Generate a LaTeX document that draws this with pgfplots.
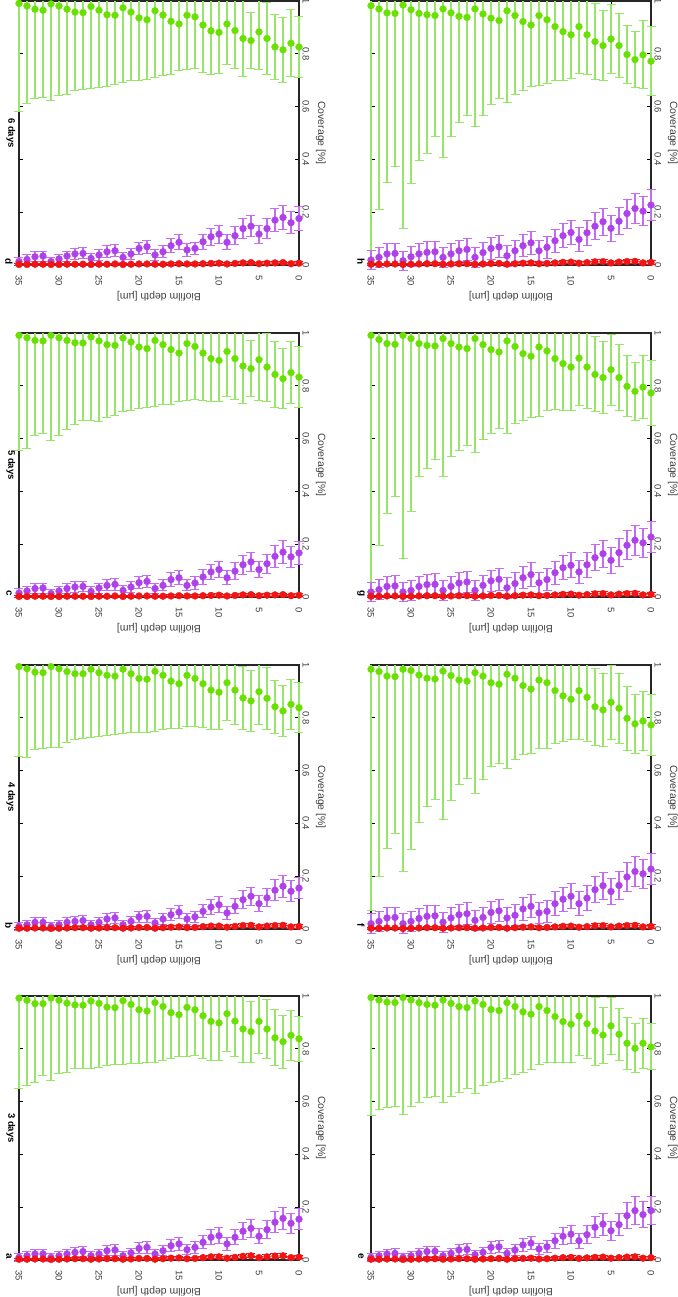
\documentclass[border=0pt]{standalone}
\usepackage{fontspec}
\setmainfont{Liberation Sans}
\usepackage{pgfplots}
\usepackage{pgfplotstable}
\pgfplotsset{compat=1.18}
\definecolor{cgreen}{RGB}{105,225,0}
\definecolor{cgreenbar}{RGB}{152,230,105}
\definecolor{cpurple}{RGB}{175,65,235}
\definecolor{cpurplebar}{RGB}{195,110,240}
\definecolor{cred}{RGB}{240,20,20}

% columns: depth, green, green err, purple, purple err, red, red err
\pgfplotstableread{
d g ge p pe r re
35 0.992 0.343 0.010 0.015 0.003 0.003
34 0.984 0.323 0.016 0.016 0.003 0.003
33 0.971 0.297 0.023 0.017 0.004 0.003
32 0.971 0.272 0.023 0.017 0.004 0.003
31 0.992 0.312 0.010 0.015 0.002 0.003
30 0.984 0.279 0.016 0.016 0.003 0.003
29 0.973 0.261 0.023 0.017 0.004 0.003
28 0.966 0.242 0.029 0.018 0.005 0.004
27 0.965 0.238 0.032 0.019 0.005 0.004
26 0.981 0.254 0.016 0.016 0.003 0.003
25 0.972 0.241 0.023 0.017 0.004 0.004
24 0.958 0.223 0.035 0.019 0.005 0.004
23 0.956 0.216 0.038 0.020 0.005 0.004
22 0.982 0.242 0.016 0.016 0.003 0.003
21 0.968 0.225 0.027 0.018 0.004 0.004
20 0.948 0.202 0.044 0.021 0.006 0.004
19 0.943 0.193 0.048 0.022 0.006 0.005
18 0.975 0.225 0.023 0.017 0.003 0.003
17 0.960 0.204 0.035 0.019 0.005 0.004
16 0.937 0.175 0.054 0.023 0.007 0.005
15 0.929 0.160 0.061 0.024 0.008 0.005
14 0.957 0.185 0.039 0.020 0.005 0.004
13 0.948 0.173 0.048 0.022 0.006 0.005
12 0.925 0.163 0.067 0.025 0.009 0.006
11 0.904 0.148 0.086 0.028 0.012 0.006
10 0.898 0.142 0.092 0.030 0.012 0.007
9 0.933 0.143 0.061 0.024 0.007 0.005
8 0.905 0.136 0.086 0.028 0.010 0.006
7 0.875 0.128 0.109 0.033 0.014 0.007
6 0.865 0.115 0.120 0.035 0.016 0.008
5 0.904 0.123 0.090 0.029 0.009 0.006
4 0.875 0.113 0.115 0.034 0.012 0.007
3 0.842 0.107 0.143 0.039 0.015 0.008
2 0.827 0.100 0.158 0.041 0.016 0.008
1 0.851 0.095 0.139 0.038 0.009 0.006
0 0.838 0.086 0.155 0.041 0.011 0.007
}\tabA
\pgfplotstableread{
d g ge p pe r re
35 0.994 0.339 0.010 0.015 0.003 0.003
34 0.986 0.337 0.016 0.016 0.003 0.003
33 0.973 0.293 0.025 0.018 0.004 0.003
32 0.971 0.288 0.025 0.018 0.004 0.003
31 0.994 0.307 0.010 0.015 0.002 0.003
30 0.986 0.299 0.016 0.016 0.003 0.003
29 0.975 0.270 0.025 0.018 0.004 0.003
28 0.967 0.249 0.029 0.018 0.005 0.004
27 0.967 0.246 0.032 0.019 0.005 0.004
26 0.984 0.260 0.016 0.016 0.003 0.003
25 0.971 0.243 0.025 0.018 0.004 0.004
24 0.961 0.228 0.038 0.020 0.005 0.004
23 0.958 0.221 0.042 0.021 0.005 0.004
22 0.984 0.243 0.016 0.016 0.003 0.003
21 0.967 0.224 0.029 0.018 0.004 0.004
20 0.949 0.206 0.046 0.021 0.006 0.004
19 0.946 0.200 0.048 0.022 0.006 0.005
18 0.976 0.226 0.023 0.017 0.003 0.003
17 0.961 0.205 0.038 0.020 0.005 0.004
16 0.939 0.180 0.054 0.023 0.007 0.005
15 0.929 0.169 0.064 0.025 0.008 0.005
14 0.961 0.195 0.038 0.020 0.005 0.004
13 0.949 0.181 0.046 0.021 0.006 0.005
12 0.929 0.167 0.067 0.025 0.009 0.006
11 0.905 0.149 0.083 0.028 0.011 0.006
10 0.897 0.141 0.092 0.030 0.011 0.007
9 0.933 0.143 0.061 0.024 0.007 0.005
8 0.905 0.130 0.086 0.028 0.010 0.006
7 0.875 0.119 0.111 0.033 0.013 0.007
6 0.864 0.114 0.124 0.035 0.014 0.008
5 0.899 0.124 0.096 0.030 0.008 0.006
4 0.874 0.118 0.118 0.034 0.011 0.007
3 0.842 0.101 0.147 0.039 0.013 0.008
2 0.826 0.098 0.162 0.042 0.014 0.008
1 0.851 0.095 0.143 0.039 0.008 0.006
0 0.838 0.095 0.155 0.041 0.010 0.007
}\tabB
\pgfplotstableread{
d g ge p pe r re
35 0.991 0.435 0.015 0.016 0.002 0.003
34 0.982 0.420 0.023 0.017 0.002 0.003
33 0.972 0.360 0.032 0.019 0.003 0.003
32 0.970 0.351 0.034 0.019 0.003 0.003
31 0.991 0.398 0.013 0.015 0.002 0.003
30 0.982 0.370 0.023 0.017 0.002 0.003
29 0.972 0.338 0.032 0.019 0.003 0.003
28 0.963 0.309 0.038 0.020 0.003 0.003
27 0.962 0.295 0.040 0.020 0.003 0.003
26 0.985 0.316 0.021 0.017 0.002 0.003
25 0.970 0.307 0.034 0.019 0.003 0.003
24 0.956 0.277 0.044 0.021 0.003 0.003
23 0.953 0.265 0.048 0.022 0.004 0.003
22 0.981 0.280 0.025 0.018 0.002 0.003
21 0.966 0.261 0.038 0.020 0.003 0.003
20 0.947 0.234 0.054 0.023 0.004 0.003
19 0.941 0.224 0.059 0.024 0.004 0.003
18 0.972 0.250 0.032 0.019 0.003 0.003
17 0.956 0.226 0.044 0.021 0.003 0.003
16 0.937 0.207 0.066 0.025 0.004 0.004
15 0.924 0.185 0.073 0.026 0.005 0.004
14 0.960 0.215 0.044 0.021 0.004 0.003
13 0.949 0.202 0.053 0.023 0.004 0.004
12 0.924 0.179 0.076 0.027 0.005 0.004
11 0.903 0.161 0.095 0.030 0.006 0.004
10 0.896 0.157 0.104 0.032 0.007 0.005
9 0.930 0.170 0.073 0.026 0.004 0.004
8 0.903 0.156 0.098 0.031 0.006 0.004
7 0.875 0.143 0.122 0.035 0.008 0.005
6 0.865 0.105 0.133 0.037 0.009 0.005
5 0.899 0.154 0.104 0.032 0.005 0.004
4 0.871 0.129 0.126 0.036 0.007 0.005
3 0.843 0.126 0.154 0.041 0.008 0.005
2 0.827 0.114 0.170 0.044 0.009 0.005
1 0.850 0.118 0.152 0.040 0.005 0.004
0 0.833 0.116 0.167 0.043 0.007 0.005
}\tabC
\pgfplotstableread{
d g ge p pe r re
35 0.991 0.410 0.013 0.015 0.002 0.003
34 0.981 0.371 0.021 0.017 0.002 0.003
33 0.969 0.340 0.031 0.019 0.003 0.003
32 0.965 0.330 0.034 0.019 0.003 0.003
31 0.989 0.366 0.013 0.015 0.002 0.003
30 0.981 0.339 0.023 0.017 0.002 0.003
29 0.969 0.324 0.034 0.019 0.003 0.003
28 0.958 0.298 0.042 0.021 0.003 0.003
27 0.956 0.292 0.044 0.021 0.003 0.003
26 0.979 0.310 0.025 0.018 0.002 0.003
25 0.965 0.292 0.038 0.020 0.003 0.003
24 0.948 0.271 0.050 0.022 0.003 0.003
23 0.946 0.264 0.054 0.023 0.004 0.003
22 0.974 0.282 0.029 0.018 0.002 0.003
21 0.958 0.260 0.042 0.021 0.003 0.003
20 0.936 0.238 0.063 0.024 0.004 0.003
19 0.929 0.225 0.069 0.025 0.004 0.003
18 0.963 0.252 0.038 0.020 0.003 0.003
17 0.947 0.228 0.050 0.022 0.003 0.003
16 0.923 0.200 0.073 0.026 0.004 0.004
15 0.913 0.177 0.086 0.028 0.005 0.004
14 0.946 0.204 0.057 0.023 0.004 0.003
13 0.940 0.195 0.063 0.024 0.004 0.004
12 0.909 0.179 0.088 0.029 0.005 0.004
11 0.887 0.164 0.107 0.032 0.006 0.004
10 0.881 0.154 0.117 0.034 0.007 0.005
9 0.913 0.152 0.086 0.028 0.004 0.004
8 0.888 0.143 0.111 0.033 0.006 0.004
7 0.858 0.144 0.138 0.038 0.008 0.005
6 0.850 0.105 0.147 0.039 0.009 0.005
5 0.883 0.141 0.117 0.034 0.005 0.004
4 0.858 0.135 0.138 0.038 0.007 0.005
3 0.826 0.122 0.170 0.044 0.008 0.005
2 0.815 0.123 0.180 0.045 0.009 0.005
1 0.840 0.126 0.160 0.042 0.005 0.004
0 0.826 0.115 0.176 0.045 0.007 0.005
}\tabD
\pgfplotstableread{
d g ge p pe r re
35 0.994 0.448 0.010 0.014 0.003 0.003
34 0.985 0.414 0.016 0.016 0.003 0.003
33 0.977 0.400 0.023 0.017 0.004 0.003
32 0.975 0.395 0.025 0.018 0.004 0.003
31 0.994 0.442 0.010 0.014 0.002 0.003
30 0.985 0.405 0.016 0.016 0.003 0.003
29 0.975 0.379 0.025 0.018 0.004 0.003
28 0.968 0.353 0.032 0.019 0.004 0.004
27 0.965 0.346 0.033 0.019 0.005 0.004
26 0.985 0.389 0.016 0.016 0.003 0.003
25 0.972 0.351 0.025 0.018 0.004 0.004
24 0.960 0.326 0.038 0.020 0.005 0.004
23 0.956 0.307 0.040 0.021 0.005 0.004
22 0.981 0.350 0.020 0.016 0.003 0.003
21 0.968 0.306 0.029 0.018 0.004 0.004
20 0.949 0.277 0.048 0.023 0.005 0.004
19 0.945 0.267 0.050 0.023 0.006 0.004
18 0.975 0.287 0.025 0.018 0.003 0.003
17 0.960 0.257 0.038 0.020 0.005 0.004
16 0.940 0.230 0.057 0.025 0.006 0.004
15 0.931 0.209 0.064 0.026 0.007 0.005
14 0.960 0.218 0.042 0.021 0.004 0.004
13 0.945 0.195 0.050 0.023 0.005 0.004
12 0.922 0.174 0.073 0.028 0.007 0.005
11 0.903 0.155 0.090 0.032 0.009 0.005
10 0.893 0.145 0.098 0.034 0.010 0.006
9 0.924 0.148 0.073 0.028 0.006 0.005
8 0.895 0.132 0.096 0.033 0.008 0.005
7 0.867 0.129 0.124 0.039 0.010 0.006
6 0.852 0.106 0.136 0.042 0.011 0.006
5 0.887 0.107 0.111 0.036 0.007 0.005
4 0.855 0.098 0.134 0.041 0.009 0.006
3 0.821 0.099 0.168 0.049 0.011 0.006
2 0.802 0.092 0.187 0.053 0.012 0.007
1 0.821 0.095 0.172 0.050 0.007 0.005
0 0.807 0.087 0.187 0.053 0.009 0.006
}\tabE
\pgfplotstableread{
d g ge p pe r re
35 0.984 0.914 0.020 0.037 0.003 0.003
34 0.975 0.776 0.029 0.038 0.003 0.003
33 0.958 0.652 0.042 0.039 0.004 0.003
32 0.956 0.593 0.044 0.039 0.004 0.003
31 0.984 0.766 0.020 0.037 0.002 0.003
30 0.979 0.679 0.029 0.038 0.003 0.003
29 0.962 0.558 0.040 0.039 0.004 0.003
28 0.950 0.486 0.048 0.040 0.005 0.004
27 0.947 0.458 0.050 0.040 0.005 0.004
26 0.977 0.563 0.026 0.038 0.003 0.003
25 0.960 0.473 0.042 0.039 0.004 0.004
24 0.943 0.397 0.054 0.040 0.005 0.004
23 0.939 0.368 0.058 0.041 0.005 0.004
22 0.971 0.459 0.033 0.038 0.003 0.003
21 0.958 0.393 0.044 0.039 0.004 0.004
20 0.933 0.318 0.063 0.041 0.006 0.004
19 0.927 0.299 0.069 0.042 0.006 0.005
18 0.965 0.356 0.042 0.039 0.003 0.003
17 0.950 0.307 0.052 0.040 0.005 0.004
16 0.922 0.262 0.076 0.043 0.007 0.005
15 0.909 0.243 0.086 0.044 0.008 0.005
14 0.943 0.258 0.061 0.041 0.005 0.004
13 0.933 0.248 0.067 0.042 0.006 0.005
12 0.903 0.199 0.096 0.045 0.008 0.005
11 0.883 0.173 0.113 0.046 0.010 0.006
10 0.870 0.154 0.124 0.047 0.011 0.006
9 0.903 0.184 0.096 0.045 0.007 0.005
8 0.878 0.168 0.117 0.047 0.009 0.006
7 0.842 0.145 0.149 0.050 0.012 0.007
6 0.830 0.139 0.164 0.051 0.013 0.007
5 0.859 0.140 0.142 0.049 0.008 0.006
4 0.836 0.132 0.165 0.052 0.011 0.007
3 0.798 0.120 0.197 0.055 0.013 0.007
2 0.777 0.111 0.218 0.057 0.014 0.008
1 0.788 0.110 0.209 0.056 0.008 0.006
0 0.773 0.117 0.227 0.058 0.010 0.007
}\tabF
\pgfplotstableread{
d g ge p pe r re
35 0.991 0.971 0.019 0.037 0.003 0.003
34 0.975 0.779 0.028 0.038 0.003 0.003
33 0.960 0.644 0.040 0.039 0.004 0.003
32 0.957 0.576 0.042 0.039 0.004 0.003
31 0.991 0.846 0.019 0.037 0.002 0.003
30 0.979 0.655 0.025 0.038 0.003 0.003
29 0.960 0.505 0.040 0.039 0.004 0.003
28 0.953 0.467 0.047 0.040 0.005 0.004
27 0.951 0.431 0.048 0.040 0.005 0.004
26 0.979 0.524 0.025 0.038 0.003 0.003
25 0.960 0.427 0.040 0.039 0.004 0.004
24 0.947 0.391 0.053 0.040 0.005 0.004
23 0.941 0.367 0.057 0.041 0.005 0.004
22 0.979 0.430 0.025 0.038 0.003 0.003
21 0.956 0.360 0.044 0.039 0.004 0.004
20 0.937 0.318 0.061 0.041 0.006 0.004
19 0.928 0.290 0.067 0.042 0.006 0.005
18 0.970 0.349 0.035 0.039 0.003 0.003
17 0.949 0.292 0.051 0.040 0.005 0.004
16 0.922 0.253 0.073 0.042 0.007 0.005
15 0.912 0.233 0.085 0.044 0.008 0.005
14 0.947 0.265 0.054 0.040 0.005 0.004
13 0.932 0.225 0.066 0.042 0.006 0.005
12 0.903 0.193 0.092 0.044 0.008 0.005
11 0.884 0.177 0.111 0.046 0.010 0.006
10 0.871 0.166 0.120 0.047 0.011 0.006
9 0.905 0.179 0.095 0.045 0.007 0.005
8 0.871 0.158 0.122 0.047 0.009 0.006
7 0.843 0.142 0.149 0.050 0.012 0.007
6 0.831 0.137 0.164 0.051 0.013 0.007
5 0.861 0.135 0.139 0.049 0.008 0.006
4 0.831 0.124 0.168 0.052 0.011 0.007
3 0.798 0.116 0.196 0.055 0.013 0.007
2 0.779 0.110 0.215 0.057 0.014 0.008
1 0.795 0.119 0.205 0.056 0.008 0.006
0 0.773 0.123 0.227 0.058 0.010 0.007
}\tabG
\pgfplotstableread{
d g ge p pe r re
35 0.982 0.972 0.019 0.037 0.003 0.003
34 0.970 0.760 0.029 0.038 0.003 0.003
33 0.955 0.644 0.042 0.039 0.004 0.003
32 0.953 0.581 0.044 0.039 0.004 0.003
31 0.985 0.846 0.016 0.037 0.002 0.003
30 0.967 0.658 0.031 0.038 0.003 0.003
29 0.953 0.556 0.042 0.039 0.004 0.003
28 0.948 0.526 0.048 0.040 0.005 0.004
27 0.945 0.458 0.050 0.040 0.005 0.004
26 0.970 0.563 0.029 0.038 0.003 0.003
25 0.955 0.470 0.042 0.039 0.004 0.004
24 0.942 0.404 0.054 0.040 0.005 0.004
23 0.938 0.371 0.059 0.041 0.005 0.004
22 0.970 0.447 0.029 0.038 0.003 0.003
21 0.951 0.384 0.047 0.040 0.004 0.004
20 0.935 0.327 0.063 0.041 0.006 0.004
19 0.926 0.296 0.069 0.042 0.006 0.005
18 0.963 0.346 0.035 0.039 0.003 0.003
17 0.945 0.299 0.054 0.040 0.005 0.004
16 0.922 0.261 0.073 0.042 0.007 0.005
15 0.909 0.233 0.084 0.043 0.008 0.005
14 0.945 0.265 0.054 0.040 0.005 0.004
13 0.929 0.243 0.067 0.042 0.006 0.005
12 0.903 0.204 0.092 0.044 0.008 0.005
11 0.884 0.185 0.111 0.046 0.010 0.006
10 0.872 0.167 0.123 0.047 0.011 0.006
9 0.903 0.176 0.097 0.045 0.007 0.005
8 0.872 0.150 0.122 0.047 0.009 0.006
7 0.846 0.144 0.147 0.050 0.012 0.007
6 0.831 0.132 0.164 0.051 0.013 0.007
5 0.856 0.132 0.139 0.049 0.008 0.006
4 0.831 0.122 0.166 0.052 0.011 0.007
3 0.797 0.111 0.195 0.055 0.013 0.007
2 0.778 0.107 0.214 0.056 0.014 0.008
1 0.796 0.129 0.204 0.055 0.008 0.006
0 0.772 0.130 0.227 0.058 0.010 0.007
}\tabH

\pgfplotsset{
  panel/.style={
    width=280bp, height=264bp, scale only axis,
    xmin=0, xmax=35, x dir=reverse, ymin=0, ymax=1,
    xtick={0,5,...,35}, ytick={0,0.2,0.4,0.6,0.8,1},
    tick align=inside, major tick length=4bp,
    xtick pos=both, ytick pos=both, yticklabel pos=right,
    axis line style={line width=1.2bp, black!85},
    tick style={line width=0.8bp, black},
    ticklabel style={font=\fontsize{9.5}{10}\selectfont, text=black!75},
    xticklabel style={rotate=-90, anchor=west},
    xticklabel shift=7bp,
    yticklabel style={rotate=-90, anchor=south},
    /pgf/number format/assume math mode=true,
    every axis x label/.style={at={(axis description cs:0.5,-0.117)}, anchor=center, rotate=180, font=\fontsize{10.5}{12}\selectfont, text=black!75},
    every axis y label/.style={at={(axis description cs:1.078,0.5)}, anchor=center, rotate=-90, font=\fontsize{10.5}{12}\selectfont, text=black!75},
    xlabel={Biofilm depth [µm]}, ylabel={Coverage [\%]},
    clip=false,
  },
}

% error bars of one series: vertical segment (cut at 1), lower caps, upper caps below 1, then the dots
% #1 table, #2 value column, #3 error column, #4 bar colour, #5 dot colour
\newcommand{\series}[5]{%
\addplot[draw=#4, line width=1.2bp, mark=none,
  quiver={u=0, v={min(\thisrow{#2}+\thisrow{#3},1)-\thisrow{#2}+\thisrow{#3}}}]
  table[x=d, y expr=\thisrow{#2}-\thisrow{#3}] {#1};
\addplot[only marks, mark=-, mark size=4.5bp, mark options={draw=#4, line width=1bp}]
  table[x=d, y expr=\thisrow{#2}-\thisrow{#3}] {#1};
\addplot[only marks, mark=-, mark size=4.5bp, mark options={draw=#4, line width=1bp}, restrict y to domain=-1:1]
  table[x=d, y expr=\thisrow{#2}+\thisrow{#3}] {#1};
\addplot[only marks, mark=*, mark size=3.4bp, mark options={draw=#5, fill=#5}]
  table[x=d, y=#2] {#1};
}

\newcommand{\panel}[5]{%
\begin{axis}[panel, at={(#1bp,-#2bp)}, anchor=north west,
  after end axis/.code={%
    \node[rotate=-90, font=\bfseries\fontsize{10}{11}\selectfont, inner sep=0pt] at (axis description cs:-0.036,0.015) {#4};
    \node[rotate=-90, font=\bfseries\fontsize{9.5}{11}\selectfont, inner sep=0pt] at (axis description cs:-0.029,0.5) {#5};}]
\series{#3}{g}{ge}{cgreenbar}{cgreen}
\series{#3}{p}{pe}{cpurplebar}{cpurple}
\series{#3}{r}{re}{cred}{cred}
\end{axis}}

\begin{document}
\begin{tikzpicture}
\useasboundingbox (0,0) rectangle (678bp,-1297bp);
\panel{19}{1}{\tabD}{d}{6 days}
\panel{19}{333}{\tabC}{c}{5 days}
\panel{19}{665}{\tabB}{b}{4 days}
\panel{19}{996}{\tabA}{a}{3 days}
\panel{371}{1}{\tabH}{h}{}
\panel{371}{333}{\tabG}{g}{}
\panel{371}{665}{\tabF}{f}{}
\panel{371}{996}{\tabE}{e}{}
\end{tikzpicture}
\end{document}
